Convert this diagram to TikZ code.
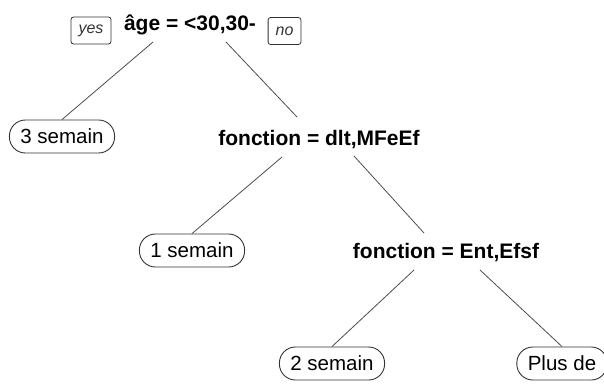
\documentclass[tikz,border=0pt]{standalone}
\usepackage{fontspec}
\setmainfont{Liberation Sans}
\tikzset{
	split/.style={
		font=\fontsize{21}{25}\selectfont\bfseries,
		anchor=base,
		inner sep=1pt
	},
	leaf/.style={
		draw=black!80,
		line width=0.9pt,
		rounded corners=16pt,
		minimum height=33pt,
		inner xsep=11pt,
		inner ysep=0pt,
		font=\fontsize{20.5}{24}\selectfont
	},
	dirbox/.style={
		draw=black!80,
		line width=0.8pt,
		rounded corners=2.5pt,
		minimum height=27pt,
		inner xsep=7.5pt,
		inner ysep=0pt,
		text=black!80,
		font=\fontsize{16}{19}\selectfont\itshape
	},
	branch/.style={
		draw=black!70,
		line width=0.8pt
	}
}
\begin{document}
\begin{tikzpicture}[x=1pt, y=-1pt]
	\useasboundingbox (0,0) rectangle (604,383);

	% root split
	\node[split] (root) at (190,30) {âge = <30,30-};
	\node[dirbox] (yes) at (91,30.5) {yes};
	\node[dirbox] (no) at (284.5,31) {no};

	% inner splits
	\node[split] (fdlt) at (319,145) {fonction = dlt,MFeEf};
	\node[split] (fent) at (446,258) {fonction = Ent,Efsf};

	% leaves
	\node[leaf] (sem3) at (62,136.5) {3 semain};
	\node[leaf] (sem1) at (192,250.5) {1 semain};
	\node[leaf] (sem2) at (332,363.5) {2 semain};
	\node[leaf] (plus) at (562,363.5) {Plus de};

	% branches
	\draw[branch]
		([shift={(-37,12)}]root.base) -- (sem3.north);
	\draw[branch]
		([shift={(36,12)}]root.base) -- ([shift={(-22,-28)}]fdlt.base);
	\draw[branch]
		([shift={(-37,12)}]fdlt.base) -- (sem1.north);
	\draw[branch]
		([shift={(35,11)}]fdlt.base) -- ([shift={(-22,-25)}]fent.base);
	\draw[branch]
		([shift={(-32,12)}]fent.base) -- (sem2.north);
	\draw[branch]
		([shift={(34,12)}]fent.base) -- (plus.north);
\end{tikzpicture}
\end{document}
